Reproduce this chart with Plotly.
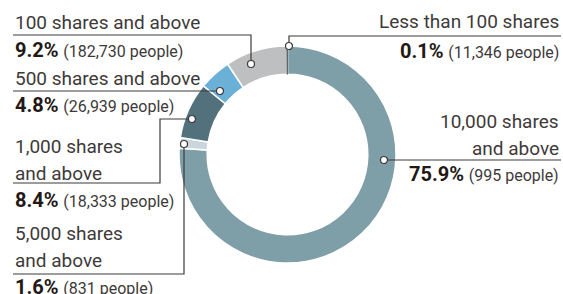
import plotly.graph_objects as go

W, H = 563, 294

# ---- data ----
categories = ["10,000 shares and above", "5,000 shares and above", "1,000 shares and above",
              "500 shares and above", "100 shares and above", "Less than 100 shares"]
percent = [75.9, 1.6, 8.4, 4.8, 9.2, 0.1]
people = [995, 831, 18333, 26939, 182730, 11346]

colors = ["#7f9fa8", "#c9d6dc", "#52717c", "#6bb0d6", "#bebfc1", "#5a5b5e"]
border_colors = ["white", "white", "white", "white", "white", "#5a5b5e"]
border_widths = [1.5, 1.5, 1.5, 1.5, 1.5, 0.8]

TXT = "#3e3a39"
BOLD = "#231815"
FONT = "Roboto"
FS = 19


def px(x):
    return x / W


def py(y):
    return 1 - y / H


fig = go.Figure()
fig.add_trace(go.Pie(
    labels=categories, values=percent, hole=0.74, sort=False, direction="clockwise",
    rotation=0, textinfo="none", hoverinfo="label+percent",
    marker=dict(colors=colors, line=dict(color=border_colors, width=border_widths)),
    domain=dict(x=[px(179), px(396)], y=[py(263), py(46)]),
    showlegend=False,
))

# label lines: (category index, name lines, side, y centers)
label_layout = [
    (4, ["100 shares and above"], "left", [23, 50]),
    (3, ["500 shares and above"], "left", [78, 105]),
    (2, ["1,000 shares", "and above"], "left", [146, 173, 200]),
    (1, ["5,000 shares", "and above"], "left", [233, 260, 287]),
    (5, ["Less than 100 shares"], "right", [22, 51]),
    (0, ["10,000 shares", "and above"], "right", [121, 148, 174]),
]

annotations = []
for idx, names, side, ys in label_layout:
    xa = px(13) if side == "left" else px(561)
    anchor = "left" if side == "left" else "right"
    lines = names + [f"<b style='color:{BOLD};font-size:20px'>{percent[idx]:.1f}%</b> "
                     f"<span style='font-size:16px'>({people[idx]:,} people)</span>"]
    for text, y in zip(lines, ys):
        annotations.append(dict(
            x=xa, y=py(y), xref="paper", yref="paper", text=text, showarrow=False,
            xanchor=anchor, yanchor="middle", font=dict(family=FONT, size=FS, color=TXT),
        ))

# leader line paths (pixels) ending at the dot
leaders = [
    [(13, 35), (251, 35), (251, 64)],
    [(13, 91), (220, 91)],
    [(13, 183), (160, 183), (160, 119), (192, 119)],
    [(13, 274), (184, 274), (184, 144)],
    [(561, 36), (289, 36), (289, 46)],
    [(561, 160), (384, 160)],
]

shapes = []
for pts in leaders:
    path = "M " + " L ".join(f"{px(x)},{py(y)}" for x, y in pts)
    shapes.append(dict(type="path", xref="paper", yref="paper", path=path,
                       line=dict(color=TXT, width=1.2)))
for pts in leaders:
    x, y = pts[-1]
    r = 3.5
    shapes.append(dict(type="circle", xref="paper", yref="paper",
                       x0=px(x - r), x1=px(x + r), y0=py(y + r), y1=py(y - r),
                       fillcolor="white", line=dict(color=TXT, width=1.2)))

fig.update_layout(
    width=W, height=H, margin=dict(l=0, r=0, t=0, b=0),
    paper_bgcolor="white", plot_bgcolor="white",
    annotations=annotations, shapes=shapes,
)

fig.write_html("out.html", config={"displayModeBar": False},
               post_script="document.body.style.margin='0';document.body.style.overflow='hidden';")
